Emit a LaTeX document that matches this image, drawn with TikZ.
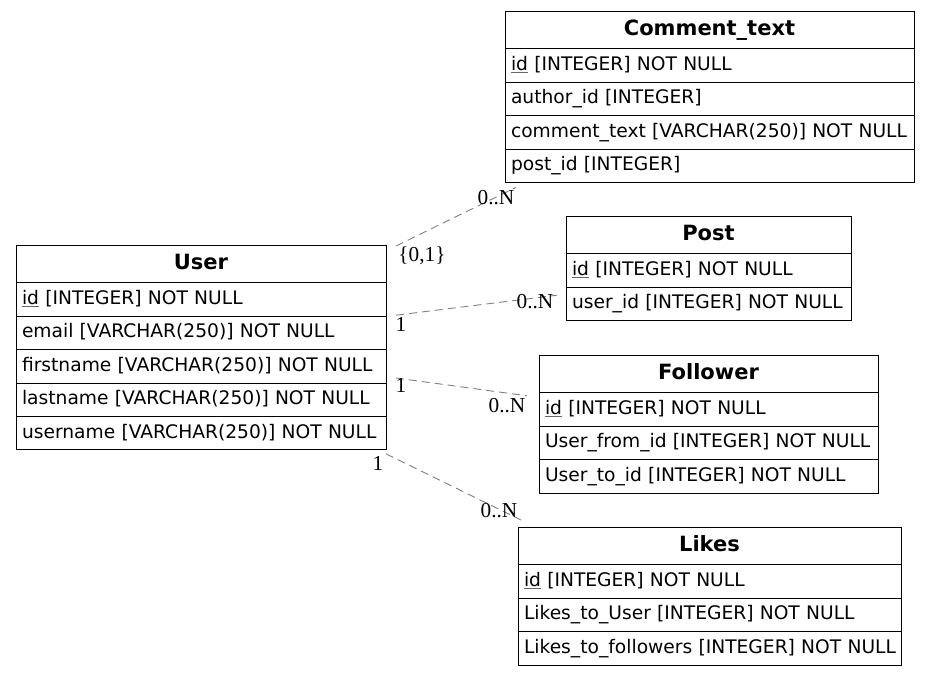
\documentclass[tikz,border=0pt]{standalone}
\usepackage{fontspec}
\setmainfont{DejaVu Sans}
\newfontfamily\cardfont{Liberation Serif}
\usetikzlibrary{positioning}
\newcommand{\pkey}[1]{{\color{black!60}\underline{\textcolor{black}{#1}}}}
\tikzset{
	tblhead/.style={draw=black,line width=1pt,outer sep=0pt,anchor=north west,minimum height=37.8pt,inner xsep=6pt,inner ysep=0pt,text height=15pt,text depth=4pt,align=center,font=\fontsize{21}{24}\selectfont\bfseries},
	tblrow/.style={draw=black,line width=1pt,outer sep=0pt,anchor=north west,minimum height=33.4pt,inner xsep=6pt,inner ysep=0pt,text height=14pt,text depth=4pt,align=left},
	rel/.style={draw=gray,line width=0.9pt,dash pattern=on 8pt off 5pt},
	card/.style={font=\cardfont\fontsize{21.3}{24}\selectfont,inner sep=0pt}
}
\begin{document}
\fontsize{18.67}{22}\selectfont
\begin{tikzpicture}[x=1pt,y=-1pt]
	\useasboundingbox (0,0) rectangle (929,675);
	% User
	\node[tblhead,text width=358pt] (user) at (16,245) {User};
	\foreach \fld [count=\i] in {{\pkey{id} [INTEGER] NOT NULL},{email [VARCHAR(250)] NOT NULL},{firstname [VARCHAR(250)] NOT NULL},{lastname [VARCHAR(250)] NOT NULL},{username [VARCHAR(250)] NOT NULL}}{%
		\node[tblrow,text width=358pt,shift={(0,{(\i-1)*33.4})}] (user\i) at (user.south west) {\mbox{\fld}};
	}
	% Comment_text
	\node[tblhead,text width=397pt] (ctext) at (505,11) {Comment\_text};
	\foreach \fld [count=\i] in {{\pkey{id} [INTEGER] NOT NULL},{author\_id [INTEGER]},{comment\_text [VARCHAR(250)] NOT NULL},{post\_id [INTEGER]}}{%
		\node[tblrow,text width=397pt,shift={(0,{(\i-1)*33.4})}] (ctext\i) at (ctext.south west) {\mbox{\fld}};
	}
	% Post
	\node[tblhead,text width=273pt] (post) at (566,216) {Post};
	\foreach \fld [count=\i] in {{\pkey{id} [INTEGER] NOT NULL},{user\_id [INTEGER] NOT NULL}}{%
		\node[tblrow,text width=273pt,shift={(0,{(\i-1)*33.4})}] (post\i) at (post.south west) {\mbox{\fld}};
	}
	% Follower
	\node[tblhead,text width=327pt] (follower) at (539,355) {Follower};
	\foreach \fld [count=\i] in {{\pkey{id} [INTEGER] NOT NULL},{User\_from\_id [INTEGER] NOT NULL},{User\_to\_id [INTEGER] NOT NULL}}{%
		\node[tblrow,text width=327pt,shift={(0,{(\i-1)*33.4})}] (follower\i) at (follower.south west) {\mbox{\fld}};
	}
	% Likes
	\node[tblhead,text width=371pt] (likes) at (518,527) {Likes};
	\foreach \fld [count=\i] in {{\pkey{id} [INTEGER] NOT NULL},{Likes\_to\_User [INTEGER] NOT NULL},{Likes\_to\_followers [INTEGER] NOT NULL}}{%
		\node[tblrow,text width=371pt,shift={(0,{(\i-1)*33.4})}] (likes\i) at (likes.south west) {\mbox{\fld}};
	}
	
	% relations
	\coordinate[shift={(10,1)}] (e1a) at (user.north east);
	\coordinate[shift={(11,5)}] (e1b) at (ctext4.south west);
	\coordinate[shift={(10,-1)}] (e2a) at (user1.south east);
	\coordinate[shift={(-9,8)}] (e2b) at (post2.north west);
	\coordinate[shift={(10,-5)}] (e3a) at (user3.south east);
	\coordinate[shift={(-12,3)}] (e3b) at (follower1.north west);
	\coordinate[shift={(0,4)}] (e4a) at (user5.south east);
	\coordinate[shift={(3,-7)}] (e4b) at (likes.north west);
	\draw[rel] (e1a)--(e1b);
	\draw[rel] (e2a)--(e2b);
	\draw[rel] (e3a)--(e3b);
	\draw[rel] (e4a)--(e4b);
	
	\node[card,shift={(26,10)}] (c1a) at (e1a) {\{0,1\}};
	\node[card,shift={(-20,10)}] (c1b) at (e1b) {0..N};
	\node[card,shift={(5,9)}] (c2a) at (e2a) {1};
	\node[card,shift={(-22,6)}] (c2b) at (e2b) {0..N};
	\node[card,shift={(5,7)}] (c3a) at (e3a) {1};
	\node[card,shift={(-20,10)}] (c3b) at (e3b) {0..N};
	\node[card,shift={(-8,10)}] (c4a) at (e4a) {1};
	\node[card,shift={(-22,-9)}] (c4b) at (e4b) {0..N};
\end{tikzpicture}
\end{document}
